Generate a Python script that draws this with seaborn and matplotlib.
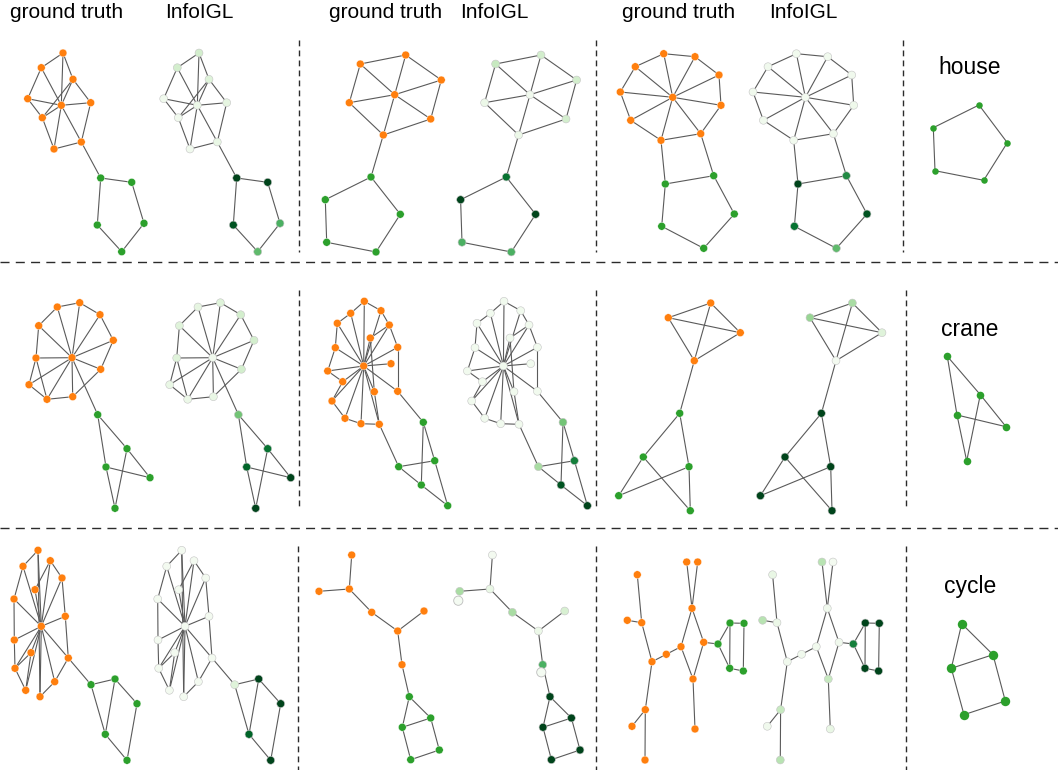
import pandas as pd
import seaborn as sns
import matplotlib.pyplot as plt
from matplotlib.collections import LineCollection

# ---- data: node positions (px in the reference), edges, explainer importance ----
# row 1 : house motif
A_x = [63, 41.3, 73, 27.7, 61.3, 90.7, 42.3, 81.3, 54, 100.7, 131.7, 144, 121.7, 97.3]
A_y = [53, 67.7, 79.3, 98.7, 105.3, 102.7, 117.7, 142, 149, 178, 182.3, 223.3, 251.7, 225]
A_edges = [(0, 1), (0, 2), (0, 4), (1, 3), (1, 4), (3, 4), (3, 6), (6, 4), (6, 2), (6, 8),
           (4, 2), (2, 5), (4, 5), (5, 7), (4, 7), (4, 8), (8, 7), (7, 9),
           (9, 10), (10, 11), (11, 12), (12, 13), (13, 9)]
A_imp = [0.2, 0.2, 0.15, 0.05, 0.08, 0.12, 0.05, 0.1, 0.05, 1.0, 1.0, 0.6, 0.55, 0.95]

B_x = [360.3, 405.7, 441.3, 394.7, 349.3, 430.7, 383.3, 371, 325.3, 400.3, 376, 326.7]
B_y = [64, 55, 80, 94.7, 102.7, 119, 135, 177, 199.7, 214.3, 252, 242.3]
B_edges = [(0, 1), (1, 2), (2, 5), (5, 6), (6, 4), (4, 0), (3, 0), (3, 1), (3, 2), (3, 4),
           (3, 5), (3, 6), (6, 7), (7, 8), (7, 9), (8, 11), (11, 10), (10, 9)]
B_imp = [0.25, 0.2, 0.2, 0.05, 0.08, 0.2, 0.08, 0.85, 1.0, 1.0, 0.6, 0.6]

C_x = [663.7, 695, 635.3, 719, 620.3, 672.7, 721, 630.7, 700.7, 661, 665.3, 713.7, 734.3, 703.7, 661.7]
C_y = [53.7, 56.7, 66.7, 75, 92, 97.3, 105.3, 120.3, 133.7, 140.3, 184, 175.7, 214, 248.3, 226.3]
C_edges = [(0, 1), (1, 3), (3, 6), (6, 8), (8, 9), (9, 7), (7, 4), (4, 2), (2, 0),
           (5, 0), (5, 1), (5, 2), (5, 3), (5, 4), (5, 6), (5, 7), (5, 8), (5, 9),
           (9, 10), (8, 11), (10, 11), (11, 12), (12, 13), (13, 14), (14, 10)]
C_imp = [0.04, 0.04, 0.05, 0.05, 0.05, 0.03, 0.06, 0.05, 0.05, 0.04, 1.0, 0.75, 0.95, 0.55, 0.85]

# row 2 : crane motif
D_x = [79.7, 57.3, 100, 38.7, 113.3, 72, 36, 100.7, 29, 72.7, 47, 97.7, 127, 106, 150, 115]
D_y = [302.7, 307, 314.7, 325.7, 340.3, 357.7, 358, 369.3, 384.7, 396.7, 399.3,
       414.7, 448.7, 467, 477.7, 508.3]
D_edges = [(0, 1), (0, 2), (2, 4), (4, 7), (7, 9), (9, 10), (10, 8), (8, 6), (6, 3), (3, 1),
           (6, 10), (5, 0), (5, 1), (5, 2), (5, 3), (5, 4), (5, 6), (5, 7), (5, 8), (5, 9),
           (5, 10), (5, 11), (11, 12), (11, 13), (12, 14), (13, 14), (12, 15), (13, 15)]
D_imp = [0.15, 0.12, 0.2, 0.15, 0.2, 0.05, 0.15, 0.2, 0.1, 0.1, 0.08, 0.5, 0.85, 0.9, 1.0, 1.0]

E_x = [364.3, 350.7, 381, 337.3, 389.3, 370.3, 335.3, 397.7, 363.7, 391, 327.7, 342.7,
       374.3, 397.7, 332, 345, 361, 379.3, 423.3, 434.7, 398.7, 421.3, 447.7]
E_y = [301.3, 313.3, 310.7, 323.3, 325, 338, 347.7, 347.3, 366, 363.7, 371, 381.7,
       391.7, 391.3, 401, 418.3, 423.7, 424.3, 422.3, 460.7, 466.7, 485, 505.7]
E_edges = [(0, 1), (1, 3), (3, 6), (6, 10), (10, 11), (11, 14), (14, 15), (15, 16), (16, 17),
           (0, 2), (2, 4), (4, 7), (7, 13), (5, 4), (5, 12), (12, 17),
           (8, 0), (8, 1), (8, 2), (8, 3), (8, 4), (8, 5), (8, 6), (8, 7), (8, 9), (8, 10),
           (8, 11), (8, 12), (8, 13), (8, 14), (8, 15), (8, 16), (8, 17),
           (13, 18), (17, 20), (18, 19), (18, 21), (19, 20), (20, 21), (19, 22), (21, 22)]
E_imp = [0.04] * 18 + [0.5, 0.8, 0.35, 0.95, 1.0]

F_x = [710.7, 668.3, 740.3, 694.3, 679.7, 643.3, 689, 618.7, 690.3]
F_y = [303, 317.7, 332.7, 360.7, 413.3, 457, 466.7, 495.7, 510.7]
F_edges = [(0, 1), (0, 2), (1, 2), (0, 3), (1, 3), (2, 3), (3, 4),
           (4, 5), (4, 6), (5, 7), (5, 8), (6, 7), (6, 8)]
F_imp = [0.35, 0.4, 0.15, 0.03, 1.0, 1.0, 1.0, 1.0, 1.0]

# row 3 : cycle motif
G_x = [38, 23, 50.3, 62, 35, 14, 65.3, 41.3, 14.3, 31, 68.3, 15, 54.7, 25.7, 40,
       91, 115, 137, 105.3, 127]
G_y = [550.3, 566.3, 560.7, 578, 589.7, 599, 616.3, 626.3, 640, 652.7, 658, 668.3,
       681.7, 690.3, 696.7, 684.7, 679, 703.7, 734.3, 760.3]
G_edges = [(0, 1), (1, 7), (0, 7), (0, 14), (2, 4), (2, 7), (2, 3), (3, 6), (3, 7), (4, 7),
           (5, 7), (5, 8), (8, 7), (8, 11), (11, 13), (11, 7), (9, 7), (9, 11), (13, 9),
           (14, 7), (12, 7), (12, 14), (10, 12), (6, 10), (6, 7), (10, 7), (13, 7), (1, 5),
           (10, 15), (15, 16), (16, 17), (15, 18), (16, 18), (17, 19), (18, 19)]
G_imp = [0.03] * 15 + [0.15, 1.0, 1.0, 0.9, 1.0]

H_x = [351.7, 319, 349.3, 371.7, 424, 397.7, 402, 409.3, 430.7, 402.3, 439.3, 410.7]
H_y = [555, 591.3, 589, 612.3, 611, 631, 664.7, 696.7, 718, 727.3, 750, 759.7]
H_edges = [(0, 2), (1, 2), (2, 3), (3, 5), (4, 5), (5, 6), (6, 7),
           (7, 8), (7, 9), (8, 9), (8, 10), (9, 11), (10, 11)]
H_imp = [0.03, 0.35, 0.1, 0.35, 0.18, 0.08, 0.6, 1.0, 1.0, 1.0, 1.0, 1.0]
# loose nodes only shown by InfoIGL
H_extra_x = [317.6, 400.6]
H_extra_y = [600.7, 672.3]

I_x = [686.7, 697.7, 637.3, 692, 627.3, 641.7, 703.7, 681, 666.3, 652, 693, 645.3, 632,
       695, 645, 718, 730, 744, 729.7, 743.3]
I_y = [562, 562, 574.7, 608.3, 620.3, 622.7, 642.3, 646.7, 654.3, 661.7, 679, 709.7,
       726.3, 729, 760, 644, 623, 623.3, 668.3, 671]
I_edges = [(0, 3), (1, 3), (3, 7), (3, 6), (7, 10), (6, 10), (10, 13), (7, 8), (8, 9),
           (2, 5), (4, 5), (5, 9), (9, 11), (11, 12), (11, 14),
           (6, 15), (15, 16), (15, 18), (16, 17), (16, 18), (17, 19), (18, 19)]
I_imp = [0.3, 0.03, 0.1, 0.05, 0.3, 0.08, 0.05, 0.05, 0.05, 0.05, 0.25, 0.25, 0.05,
         0.1, 0.3, 0.8, 1.0, 1.0, 1.0, 1.0]

# motif templates
house_x = [979, 933.3, 1007.3, 935, 983.7]
house_y = [105, 127.7, 142.7, 170.7, 180.3]
house_edges = [(0, 1), (1, 3), (3, 4), (4, 2), (2, 0)]
crane_x = [947.3, 980.3, 957, 1006, 966.7]
crane_y = [356.3, 394.7, 415, 426.7, 461]
crane_edges = [(0, 1), (1, 3), (0, 2), (2, 3), (1, 4), (2, 4)]
cycle_x = [961.7, 993, 951.3, 1005.3, 964]
cycle_y = [623.7, 654.7, 668.3, 701, 714.7]
cycle_edges = [(0, 1), (0, 2), (1, 2), (1, 3), (2, 4), (3, 4)]

motif_names = ['house', 'crane', 'cycle']
col_titles = ['ground truth', 'InfoIGL']

# ---- layout ----
graphs = [
    (A_x, A_y, A_edges, A_imp, 136.0),
    (B_x, B_y, B_edges, B_imp, 135.3),
    (C_x, C_y, C_edges, C_imp, 132.7),
    (D_x, D_y, D_edges, D_imp, 140.7),
    (E_x, E_y, E_edges, E_imp, 139.7),
    (F_x, F_y, F_edges, F_imp, 141.7),
    (G_x, G_y, G_edges, G_imp, 143.7),
    (H_x, H_y, H_edges, H_imp, 140.7),
    (I_x, I_y, I_edges, I_imp, 135.3),
]
N_MOTIF = 5
ORANGE, GREEN = '#ff7f0e', '#2ca02c'
EDGE_C = '#5a5a5a'

sns.set_theme(style='white')
plt.rcParams['font.family'] = ['Liberation Sans', 'DejaVu Sans']

fig = plt.figure(figsize=(10.58, 7.70), dpi=100)
ax = fig.add_axes([0, 0, 1, 1])
ax.set_xlim(0, 1058)
ax.set_ylim(770, 0)
ax.axis('off')


def draw_edges(xs, ys, edges, dx=0.0, lw=0.8):
    segs = [[(xs[a] + dx, ys[a]), (xs[b] + dx, ys[b])] for a, b in edges]
    ax.add_collection(LineCollection(segs, colors=EDGE_C, linewidths=lw, zorder=1))


for xs, ys, edges, imp, dx in graphs:
    n = len(xs)
    role = ['base'] * (n - N_MOTIF) + ['motif'] * N_MOTIF
    df = pd.DataFrame({'x': xs, 'y': ys, 'role': role, 'imp': imp})
    # ground truth
    draw_edges(xs, ys, edges)
    sns.scatterplot(data=df, x='x', y='y', hue='role', palette={'base': ORANGE, 'motif': GREEN},
                    s=32, linewidth=0.3, edgecolor='white', legend=False, zorder=3, ax=ax)
    # InfoIGL explanation
    draw_edges(xs, ys, edges, dx=dx)
    df['x2'] = df['x'] + dx
    sns.scatterplot(data=df, x='x2', y='y', hue='imp', palette='Greens', hue_norm=(0, 1),
                    s=32, linewidth=0.4, edgecolor='#c4c4c4', legend=False, zorder=3, ax=ax)

# isolated nodes in the InfoIGL cycle explanation
ex = pd.DataFrame({'x': [v + 140.7 for v in H_extra_x], 'y': H_extra_y, 'imp': [0.02, 0.02]})
sns.scatterplot(data=ex, x='x', y='y', hue='imp', palette='Greens', hue_norm=(0, 1),
                s=44, linewidth=0.6, edgecolor='#bdbdbd', legend=False, zorder=3, ax=ax)

# motif templates
for (mx, my, me, sz), name, ty in zip([(house_x, house_y, house_edges, 22),
                                       (crane_x, crane_y, crane_edges, 30),
                                       (cycle_x, cycle_y, cycle_edges, 46)],
                                      motif_names, [67, 329, 587]):
    draw_edges(mx, my, me, lw=0.8)
    sns.scatterplot(x=mx, y=my, color=GREEN, s=sz, linewidth=0, zorder=3, ax=ax)
    ax.text(970, ty, name, fontsize=16.5, ha='center', va='center', color='black')

# column titles
for cx in [(67, 199), (386, 494), (679, 803)]:
    for x, t in zip(cx, col_titles):
        ax.text(x, 13, t, fontsize=15, ha='center', va='center', color='black')

# dashed separators
vd = dict(color='#2b2b2b', lw=1.0, dashes=(4.2, 3.0), zorder=0)
for (y0, y1), xs_ in zip([(40, 252), (290, 506), (546, 770)],
                         [(299, 596, 903), (299, 596, 905.5), (297.5, 596, 905.5)]):
    for x in xs_:
        ax.plot([x, x], [y0, y1], **vd)
hd = dict(color='#2b2b2b', lw=1.0, dashes=(6.5, 4.5), zorder=0)
for y in [262, 528]:
    ax.plot([0, 1058], [y, y], **hd)

fig.savefig('out.png', dpi=100)
